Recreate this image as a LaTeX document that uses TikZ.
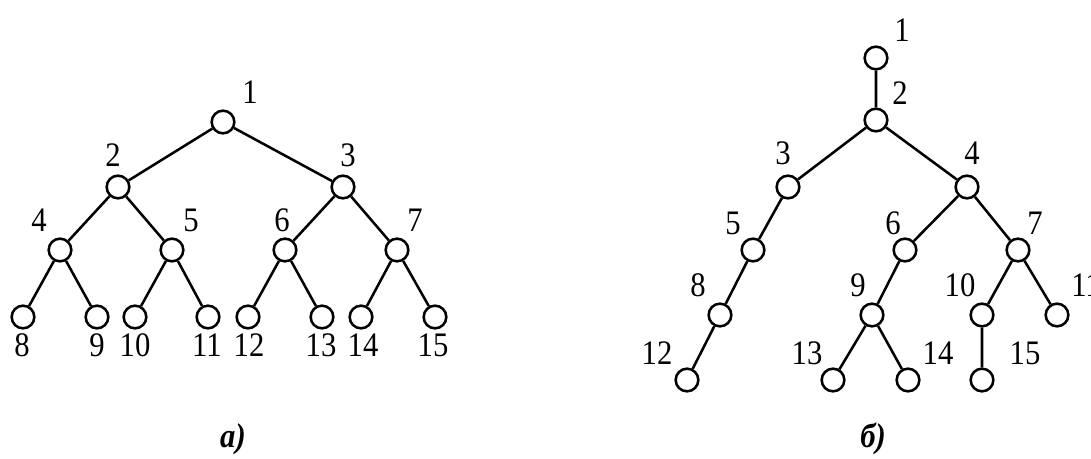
\documentclass[tikz,border=0pt]{standalone}
\usepackage{fontspec}
\setmainfont{Liberation Serif}
\newcommand\tlab[1]{\scalebox{1}[1.12]{#1}}
\tikzset{
  vtx/.style={circle,draw,line width=1.9pt,minimum size=17pt,inner sep=0pt,fill=white},
  edg/.style={line width=1.9pt},
  lab/.style={inner sep=0pt,font=\fontsize{23}{24}\selectfont},
  captxt/.style={inner sep=0pt,font=\fontsize{23}{24}\selectfont\bfseries\itshape}
}
\begin{document}
\begin{tikzpicture}[x=0.75pt,y=-0.75pt]
\useasboundingbox (0,0) rectangle (1091,458);
% ---- tree a ----
\node[vtx] (a1) at (223,122) {};
\node[vtx] (a2) at (118,187) {};
\node[vtx] (a3) at (343,187) {};
\node[vtx] (a4) at (60,250) {};
\node[vtx] (a5) at (172,250) {};
\node[vtx] (a6) at (285,250) {};
\node[vtx] (a7) at (397,250) {};
\node[vtx] (a8) at (23,317) {};
\node[vtx] (a9) at (97,317) {};
\node[vtx] (a10) at (135,317) {};
\node[vtx] (a11) at (208,317) {};
\node[vtx] (a12) at (248,317) {};
\node[vtx] (a13) at (322,317) {};
\node[vtx] (a14) at (361,317) {};
\node[vtx] (a15) at (435,317) {};
\draw[edg] (a1) -- (a2) (a1) -- (a3)
  (a2) -- (a4) (a2) -- (a5) (a3) -- (a6) (a3) -- (a7)
  (a4) -- (a8) (a4) -- (a9) (a5) -- (a10) (a5) -- (a11)
  (a6) -- (a12) (a6) -- (a13) (a7) -- (a14) (a7) -- (a15);
\node[lab] (la1) at (250,92) {\tlab{1}};
\node[lab] (la2) at (113,155) {\tlab{2}};
\node[lab] (la3) at (348,155) {\tlab{3}};
\node[lab] (la4) at (39,220) {\tlab{4}};
\node[lab] (la5) at (191,220) {\tlab{5}};
\node[lab] (la6) at (282,220) {\tlab{6}};
\node[lab] (la7) at (415,220) {\tlab{7}};
\node[lab] (la8) at (22,345) {\tlab{8}};
\node[lab] (la9) at (97,345) {\tlab{9}};
\node[lab] (la10) at (135,345) {\tlab{10}};
\node[lab] (la11) at (207,345) {\tlab{11}};
\node[lab] (la12) at (249,345) {\tlab{12}};
\node[lab] (la13) at (321,345) {\tlab{13}};
\node[lab] (la14) at (363,345) {\tlab{14}};
\node[lab] (la15) at (433,345) {\tlab{15}};
\node[captxt] (capa) at (233,439) {\tlab{a)}};
% ---- tree b ----
\node[vtx] (b1) at (876,58) {};
\node[vtx] (b2) at (876,120) {};
\node[vtx] (b3) at (788,187) {};
\node[vtx] (b4) at (967,187) {};
\node[vtx] (b5) at (753,250) {};
\node[vtx] (b6) at (905,250) {};
\node[vtx] (b7) at (1018,250) {};
\node[vtx] (b8) at (720,315) {};
\node[vtx] (b9) at (872,315) {};
\node[vtx] (b10) at (982,315) {};
\node[vtx] (b11) at (1057,315) {};
\node[vtx] (b12) at (687,380) {};
\node[vtx] (b13) at (833,380) {};
\node[vtx] (b14) at (908,380) {};
\node[vtx] (b15) at (982,380) {};
\draw[edg] (b1) -- (b2) (b2) -- (b3) (b2) -- (b4)
  (b3) -- (b5) (b4) -- (b6) (b4) -- (b7)
  (b5) -- (b8) (b6) -- (b9) (b7) -- (b10) (b7) -- (b11)
  (b8) -- (b12) (b9) -- (b13) (b9) -- (b14) (b10) -- (b15);
\node[lab] (lb1) at (902,30) {\tlab{1}};
\node[lab] (lb2) at (900,93) {\tlab{2}};
\node[lab] (lb3) at (783,153) {\tlab{3}};
\node[lab] (lb4) at (972,153) {\tlab{4}};
\node[lab] (lb5) at (733,223) {\tlab{5}};
\node[lab] (lb6) at (893,223) {\tlab{6}};
\node[lab] (lb7) at (1035,223) {\tlab{7}};
\node[lab] (lb8) at (698,285) {\tlab{8}};
\node[lab] (lb9) at (858,285) {\tlab{9}};
\node[lab] (lb10) at (960,285) {\tlab{10}};
\node[lab] (lb11) at (1086,285) {\tlab{11}};
\node[lab] (lb12) at (657,353) {\tlab{12}};
\node[lab] (lb13) at (807,353) {\tlab{13}};
\node[lab] (lb14) at (938,353) {\tlab{14}};
\node[lab] (lb15) at (1025,353) {\tlab{15}};
\node[captxt] (capb) at (873,439) {\tlab{б)}};
\end{tikzpicture}
\end{document}
